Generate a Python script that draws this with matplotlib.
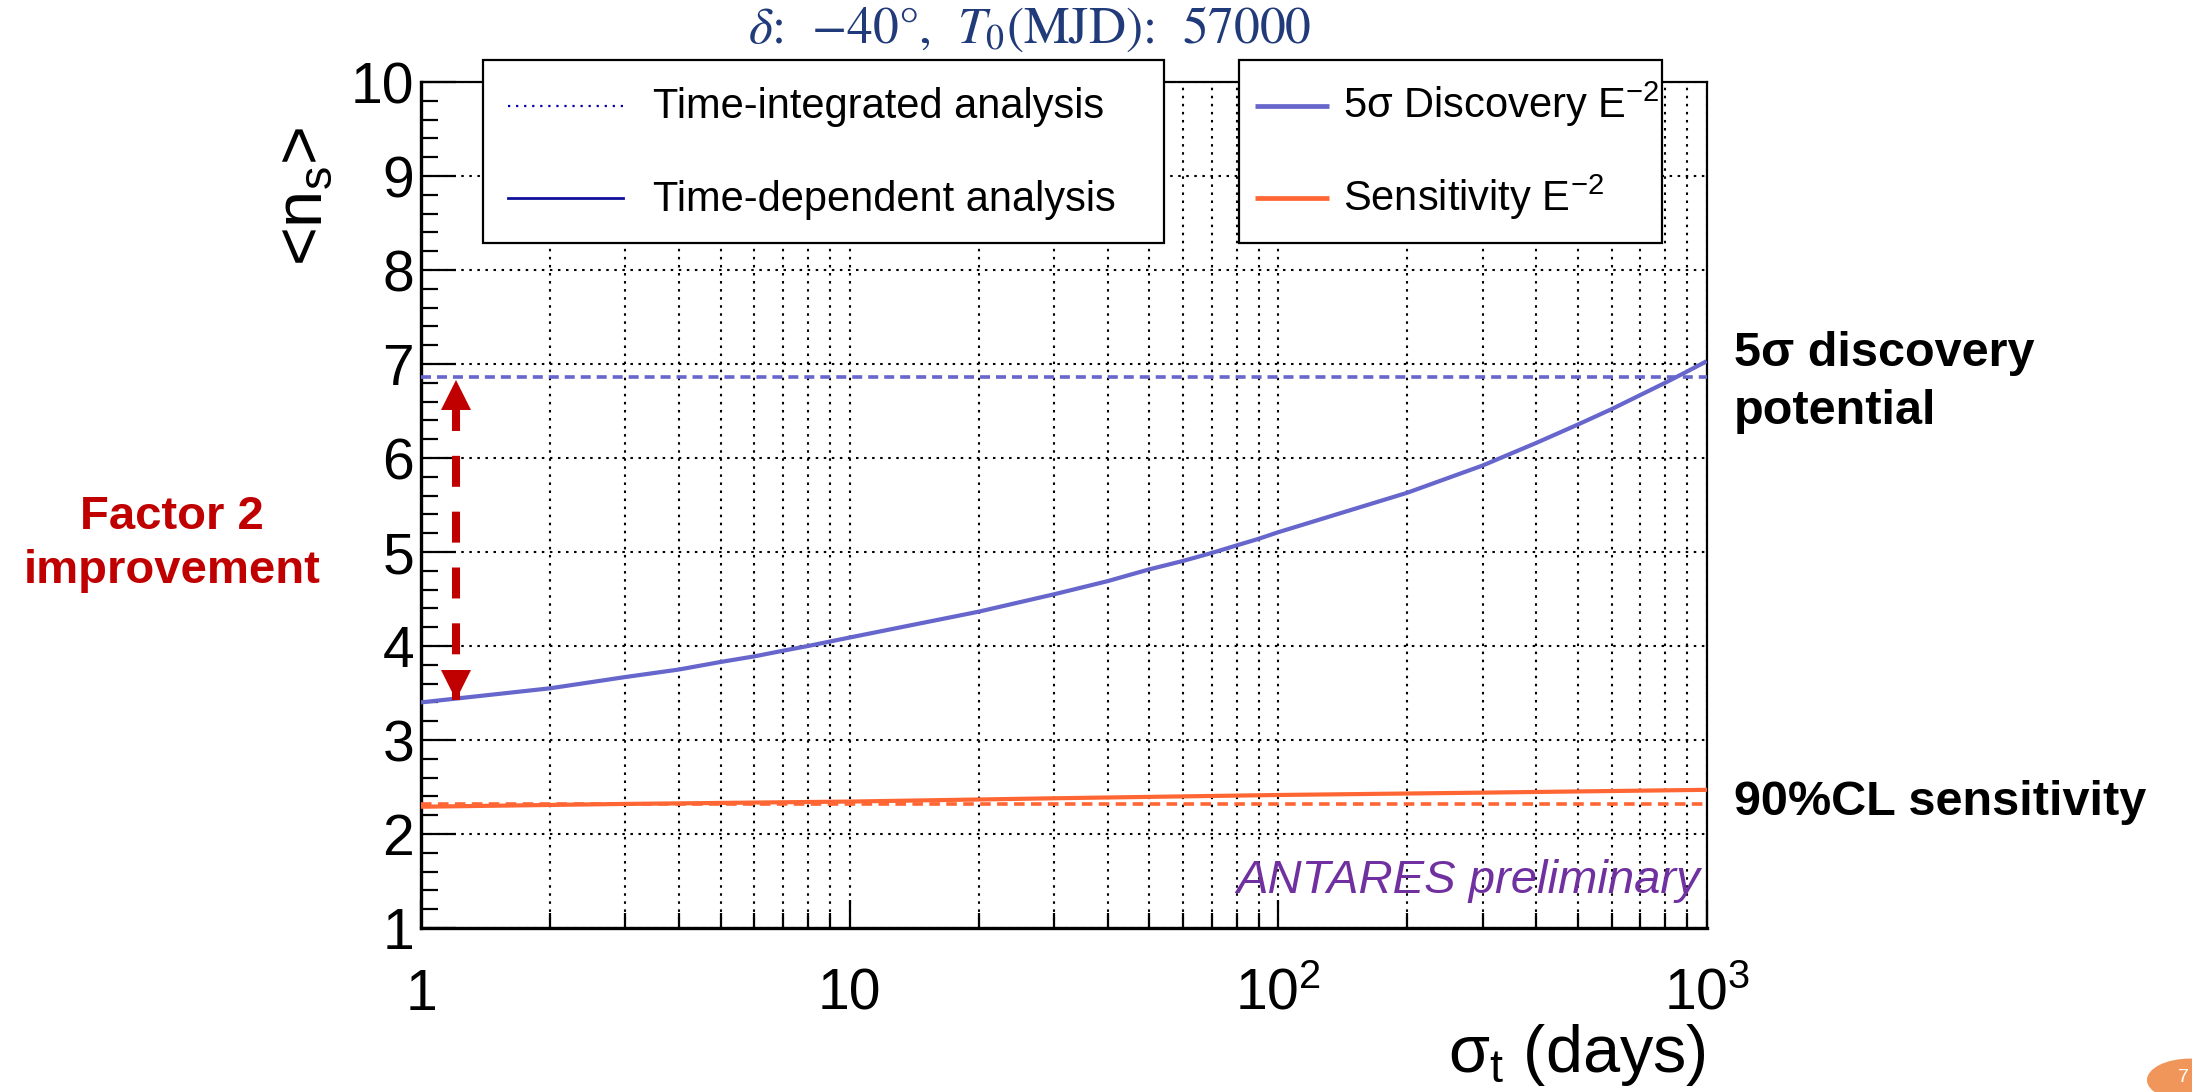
import matplotlib
matplotlib.use("Agg")
import matplotlib.pyplot as plt
from matplotlib.patches import Rectangle, Circle
from matplotlib.lines import Line2D
from matplotlib.ticker import FixedLocator, FixedFormatter, LogLocator, NullFormatter, MultipleLocator
from matplotlib.transforms import offset_copy

plt.rcParams['lines.scale_dashes'] = False
plt.rcParams['font.family'] = ['Liberation Sans', 'DejaVu Sans']
plt.rcParams['mathtext.fontset'] = 'custom'
plt.rcParams['mathtext.rm'] = 'Liberation Sans'
plt.rcParams['mathtext.it'] = 'Liberation Sans:italic'
plt.rcParams['mathtext.bf'] = 'Liberation Sans:bold'
plt.rcParams['mathtext.sf'] = 'Liberation Sans'

# ---------------- data ----------------
sigma_t = [1, 2, 3, 4, 5, 6, 7, 8, 10, 20, 30, 40, 50, 60, 70, 80, 90,
           100, 200, 300, 400, 500, 600, 700, 800, 900, 1000]
discovery_td = [3.40, 3.55, 3.67, 3.75, 3.83, 3.89, 3.95, 4.00, 4.09, 4.365,
                4.55, 4.69, 4.815, 4.905, 4.99, 5.07, 5.14, 5.21, 5.63, 5.92,
                6.16, 6.355, 6.52, 6.67, 6.80, 6.92, 7.03]
sens_sigma = [1, 3, 10, 30, 100, 300, 1000]
sensitivity_td = [2.29, 2.32, 2.345, 2.38, 2.415, 2.44, 2.47]
discovery_ti = 6.86
sensitivity_ti = 2.32
x_range = [1, 1000]
y_range = [1, 10]
xtick_vals = [1, 10, 100, 1000]
xtick_labels = ['1', '10', '$10^{2}$', '$10^{3}$']
ytick_vals = [1, 2, 3, 4, 5, 6, 7, 8, 9, 10]
arrow_x = 1.21
arrow_top = 6.83
arrow_bottom = 3.43

# ---------------- figure ----------------
W, H = 2192, 1092
DPI = 100
fig = plt.figure(figsize=(W / DPI, H / DPI), dpi=DPI)
def fx(x): return x / W
def fy(y): return 1 - y / H

L, R, T, B = 421, 1706.7, 82, 928
ax = fig.add_axes([fx(L), fy(B), (R - L) / W, (B - T) / H])
ax.set_xscale('log')
ax.set_xlim(*x_range)
ax.set_ylim(*y_range)

c_disc = '#6666cc'
c_sens = '#ff6633'

# grid
grid_kw = dict(color='black', lw=1.5, linestyle=(0, (1.8, 4.0)))
ax.grid(which='major', axis='y', **grid_kw)
ax.grid(which='both', axis='x', **grid_kw)
ax.set_axisbelow(True)

# curves
ax.plot(sigma_t, discovery_td, color=c_disc, lw=3.0, solid_capstyle='butt',
        solid_joinstyle='round', zorder=4)
ax.plot(x_range, [discovery_ti, discovery_ti], color=c_disc, lw=2.6,
        linestyle=(0, (7.2, 4.3)), zorder=3)
ax.plot(sens_sigma, sensitivity_td, color=c_sens, lw=3.0, zorder=4)
ax.plot(x_range, [sensitivity_ti, sensitivity_ti], color=c_sens, lw=2.6,
        linestyle=(0, (7.6, 4.6)), zorder=3)

# ticks
ax.xaxis.set_major_locator(FixedLocator(xtick_vals))
ax.xaxis.set_major_formatter(FixedFormatter(xtick_labels))
ax.xaxis.set_minor_locator(LogLocator(base=10, subs=[2, 3, 4, 5, 6, 7, 8, 9]))
ax.xaxis.set_minor_formatter(NullFormatter())
ax.yaxis.set_major_locator(FixedLocator(ytick_vals))
ax.yaxis.set_minor_locator(MultipleLocator(0.2))
ax.tick_params(axis='both', which='both', direction='in', top=False, right=False,
               width=1.6, colors='black')
ax.tick_params(axis='x', which='major', length=20, pad=59, labelsize=41)
ax.tick_params(axis='x', which='minor', length=11)
ax.tick_params(axis='y', which='major', length=25, pad=5, labelsize=41)
ax.tick_params(axis='y', which='minor', length=12)
for lbl in ax.get_xticklabels():
    lbl.set_verticalalignment('baseline')

for s in ['left', 'bottom']:
    ax.spines[s].set_linewidth(2.4)
for s in ['top', 'right']:
    ax.spines[s].set_linewidth(1.6)

# arrow (Factor 2)
c_red = '#c00000'
ax.plot([arrow_x, arrow_x], [arrow_top, arrow_bottom], color=c_red, lw=5.8,
        linestyle=(25.8, (22.3, 17.9)), zorder=5)
head = 21
tr_top = offset_copy(ax.transData, fig=fig, x=0, y=-head / 2, units='points')
tr_bot = offset_copy(ax.transData, fig=fig, x=0, y=head / 2, units='points')
ax.plot([arrow_x], [arrow_top], marker='^', markersize=head, color=c_red,
        markeredgewidth=0, transform=tr_top, zorder=6)
ax.plot([arrow_x], [arrow_bottom], marker='v', markersize=head, color=c_red,
        markeredgewidth=0, transform=tr_bot, zorder=6)

# ANTARES preliminary
ax.text((1700 - L) / (R - L), (B - 893) / (B - T), 'ANTARES preliminary',
        transform=ax.transAxes, ha='right', va='baseline', style='italic',
        size=34, color='#7030a0', zorder=7)

# axis titles
fig.text(fx(305), fy(196), '<n$_{\\rm s}$>', rotation=90, ha='center', va='center',
         size=48)
fig.text(fx(1706), fy(1072), 'σ$_{\\rm t}$ (days)', ha='right', va='baseline', size=48)

# title
fig.text(fx(1030), fy(43), r'$\delta$:  $-40$°,  $T_0$(MJD):  57000', ha='center',
         va='baseline', size=37, color='#203a7a', family='STIXGeneral',
         math_fontfamily='stix')

# legends
def legend_box(x0, x1, y0, y1):
    fig.add_artist(Rectangle((fx(x0), fy(y1)), (x1 - x0) / W, (y1 - y0) / H,
                             transform=fig.transFigure, facecolor='white',
                             edgecolor='black', lw=1.6, zorder=10))

legend_box(482.7, 1164, 60, 243)
legend_box(1239, 1662, 60, 243)

def leg_line(x0, x1, y, **kw):
    fig.add_artist(Line2D([fx(x0), fx(x1)], [fy(y), fy(y)], transform=fig.transFigure,
                          zorder=11, **kw))

def leg_text(x, y, s):
    fig.text(fx(x), fy(y), s, ha='left', va='baseline', size=30, zorder=12)

leg_line(508, 623, 106, color='#0000a0', lw=1.6, linestyle=(0, (1.6, 4.2)))
leg_text(653, 118, 'Time-integrated analysis')
leg_line(508, 623, 198, color='#10109a', lw=2.0)
leg_text(653, 211, 'Time-dependent analysis')
leg_line(1255, 1329, 106, color=c_disc, lw=3.4, solid_capstyle='butt')
leg_text(1343, 118, '5σ Discovery E$^{-2}$')
leg_line(1255, 1329, 198, color=c_sens, lw=3.4, solid_capstyle='butt')
leg_text(1343, 211, 'Sensitivity E$^{-2}$')

# annotations
fig.text(fx(1734), fy(366), '5σ discovery', ha='left', va='baseline', size=35,
         weight='bold')
fig.text(fx(1734), fy(424.5), 'potential', ha='left', va='baseline', size=35,
         weight='bold')
fig.text(fx(1734), fy(815), '90%CL sensitivity', ha='left', va='baseline', size=35,
         weight='bold')
fig.text(fx(172), fy(529), 'Factor 2', ha='center', va='baseline', size=34,
         weight='bold', color=c_red)
fig.text(fx(172), fy(583), 'improvement', ha='center', va='baseline', size=34,
         weight='bold', color=c_red)

# slide page badge
fig.add_artist(Circle((fx(2190), fy(1080)), 43 / W, transform=fig.transFigure,
                      facecolor='#f0965a', edgecolor='none', zorder=10))
fig.text(fx(2183), fy(1082), '7', ha='center', va='baseline', size=14,
         color='white', zorder=11)

fig.savefig('out.png', dpi=DPI)
